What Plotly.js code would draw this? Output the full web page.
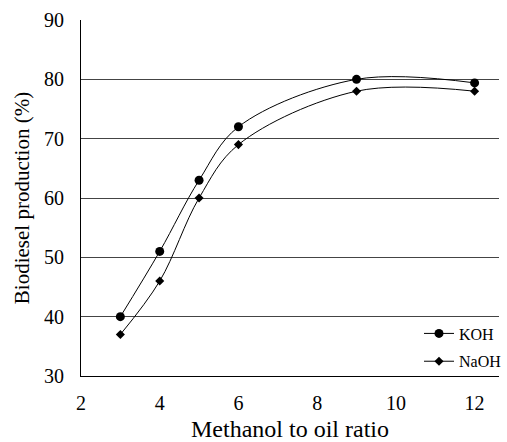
<!DOCTYPE html>
<html><head><meta charset="utf-8">
<script src="https://cdn.plot.ly/plotly-3.0.1.min.js"></script>
<style>html,body{margin:0;padding:0;background:#fff}#chart{width:507px;height:442px}</style>
</head><body><div id="chart"></div>
<script>
const ratios = [3, 4, 5, 6, 9, 12];
const koh = [40, 51, 63, 72, 80, 79.4];
const naoh = [37, 46, 60, 69, 78, 78];
const xTicks = [2, 4, 6, 8, 10, 12];
const yTicks = [30, 40, 50, 60, 70, 80, 90];

const font = "Times New Roman, Liberation Serif, DejaVu Serif, serif";
const traces = [
  {x: ratios, y: koh, name: 'KOH', legendgroup: 'a', mode: 'lines+markers', type: 'scatter',
   line: {color: '#000', width: 1, shape: 'spline', smoothing: 1},
   marker: {symbol: 'circle', size: 9, color: '#000'}},
  {x: ratios, y: naoh, name: 'NaOH', legendgroup: 'b', mode: 'lines+markers', type: 'scatter',
   line: {color: '#000', width: 1, shape: 'spline', smoothing: 1},
   marker: {symbol: 'diamond', size: 7, color: '#000'}}
];
const layout = {
  width: 507, height: 442,
  margin: {l: 81, r: 0, t: 20, b: 66},
  paper_bgcolor: '#fff', plot_bgcolor: '#fff',
  font: {family: font, color: '#000', size: 18},
  showlegend: true,
  legend: {x: 1.02, xanchor: 'right', y: 0.08, yanchor: 'middle', bgcolor: 'rgba(0,0,0,0)',
           traceorder: 'grouped', tracegroupgap: 4,
           font: {family: font, size: 16, color: '#000'}},
  xaxis: {range: [2, 12.62], tickvals: xTicks, showgrid: false, zeroline: false,
          showline: true, linecolor: '#000', linewidth: 1, ticks: '',
          tickfont: {family: font, size: 20}, ticklabelstandoff: 9,
          title: {text: 'Methanol to oil ratio', font: {family: font, size: 24}, standoff: 7}},
  yaxis: {range: [30, 90], tickvals: yTicks, showgrid: true, gridcolor: '#444', gridwidth: 1,
          zeroline: false, showline: true, linecolor: '#000', linewidth: 1, ticks: '',
          tickfont: {family: font, size: 20}, ticklabelstandoff: 12,
          title: {text: 'Biodiesel production (%)', font: {family: font, size: 21}, standoff: 8}}
};
Plotly.newPlot('chart', traces, layout, {displayModeBar: false, staticPlot: true});
</script></body></html>
